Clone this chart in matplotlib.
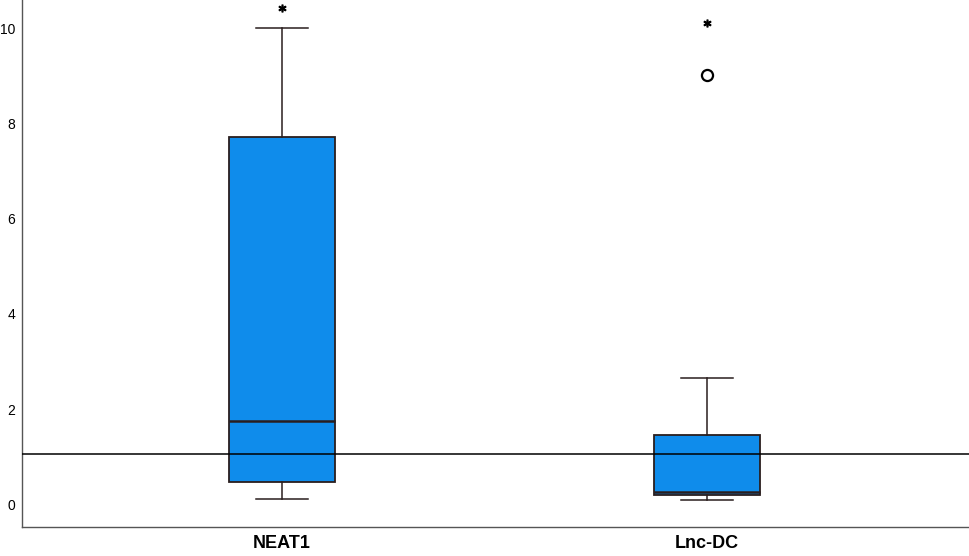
import matplotlib
matplotlib.use("Agg")
import matplotlib.pyplot as plt

categories = ["NEAT1", "Lnc-DC"]
whisker_low = [0.10, 0.09]
q1 = [0.46, 0.19]
median = [1.75, 0.26]
q3 = [7.73, 1.45]
whisker_high = [10.02, 2.66]
outliers = [[], [9.02]]
extremes = [[10.43], [10.12]]
reference_value = 1.06

box_color = "#0f8ceb"
edge_color = "#2a1e1e"

fig = plt.figure(figsize=(9.69, 5.56), dpi=100)
ax = fig.add_axes([0.0227, 0.0522, 0.9773, 0.9478])

positions = [1, 2]
stats = []
for i, c in enumerate(categories):
    stats.append(dict(label=c, whislo=whisker_low[i], q1=q1[i], med=median[i],
                      q3=q3[i], whishi=whisker_high[i], fliers=outliers[i]))

ax.bxp(stats, positions=positions, widths=0.25, patch_artist=True, showfliers=True,
       boxprops=dict(facecolor=box_color, edgecolor=edge_color, linewidth=1.3),
       medianprops=dict(color=edge_color, linewidth=1.8),
       whiskerprops=dict(color=edge_color, linewidth=1.1),
       capprops=dict(color=edge_color, linewidth=1.1),
       capwidths=0.122,
       flierprops=dict(marker="o", markersize=8, markerfacecolor="white",
                       markeredgecolor="black", markeredgewidth=1.6))

for p, ex in zip(positions, extremes):
    for v in ex:
        ax.plot([p], [v], marker="$*$", markersize=5, color="black", linestyle="none")

ax.axhline(reference_value, color="black", linewidth=1.1, zorder=5)

ax.set_xlim(0.388, 2.616)
ax.set_ylim(-0.48, 10.6)
ax.set_yticks([0, 2, 4, 6, 8, 10])
ax.set_yticklabels(["0", "2", "4", "6", "8", "10"], fontsize=10, family="Liberation Sans")
ax.set_xticks(positions)
ax.set_xticklabels(categories, fontsize=13, fontweight="bold", family="Liberation Sans")
ax.tick_params(axis="y", length=0, pad=5)
ax.tick_params(axis="x", length=0, pad=6)

for s in ["top", "right"]:
    ax.spines[s].set_visible(False)
for s in ["left", "bottom"]:
    ax.spines[s].set_color("#555555")
    ax.spines[s].set_linewidth(1.0)

fig.savefig("out.png", dpi=100)
